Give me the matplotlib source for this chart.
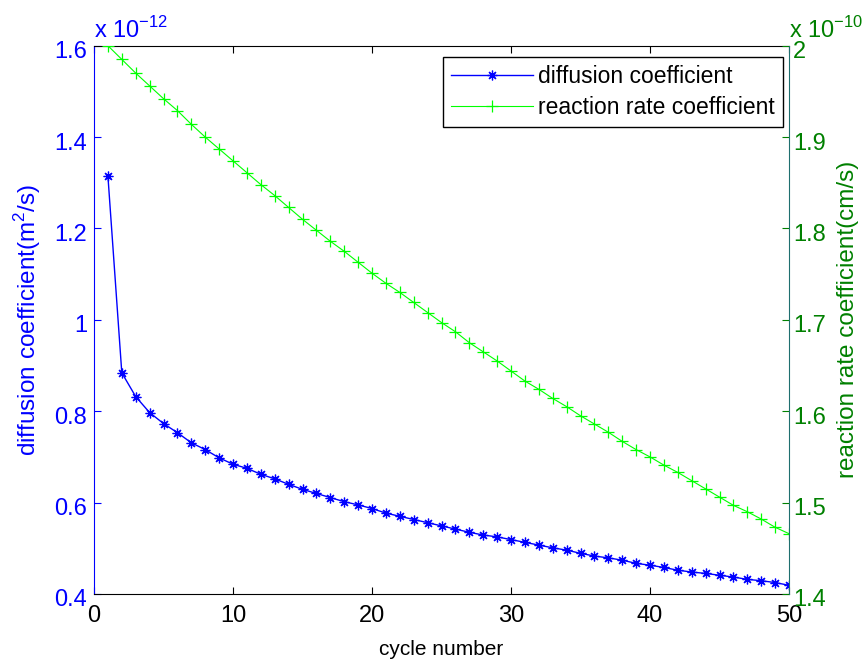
import numpy as np
import matplotlib
matplotlib.use('Agg')
import matplotlib.pyplot as plt
import matplotlib.transforms as mtransforms

plt.rcParams['font.family'] = ['Liberation Sans', 'DejaVu Sans']
plt.rcParams['mathtext.fontset'] = 'custom'
plt.rcParams['mathtext.rm'] = 'Liberation Sans'

# cycle number
cycle = list(range(1, 51))

# diffusion coefficient, units of 1e-12 m^2/s
diff = [1.315, 0.884, 0.832, 0.797, 0.773, 0.753, 0.731, 0.716, 0.698, 0.684,
        0.675, 0.662, 0.652, 0.640, 0.629, 0.620, 0.611, 0.602, 0.595, 0.587,
        0.577, 0.570, 0.563, 0.556, 0.549, 0.542, 0.535, 0.529, 0.525, 0.519,
        0.513, 0.507, 0.501, 0.496, 0.489, 0.483, 0.479, 0.474, 0.467, 0.463,
        0.458, 0.452, 0.448, 0.445, 0.441, 0.437, 0.432, 0.429, 0.425, 0.419]

# reaction rate coefficient, units of 1e-10 cm/s
rate = [2.000, 1.985, 1.970, 1.956, 1.942, 1.929, 1.914, 1.900, 1.887, 1.874,
        1.861, 1.848, 1.836, 1.823, 1.810, 1.798, 1.786, 1.775, 1.763, 1.751,
        1.740, 1.730, 1.719, 1.708, 1.697, 1.687, 1.675, 1.665, 1.655, 1.644,
        1.633, 1.624, 1.614, 1.605, 1.595, 1.586, 1.577, 1.567, 1.558, 1.550,
        1.541, 1.533, 1.524, 1.515, 1.506, 1.497, 1.490, 1.482, 1.473, 1.466]

blue = (0, 0, 1)
lime = (0, 1, 0)
dgreen = (0, 0.5, 0)

fig = plt.figure(figsize=(8.68, 6.65), dpi=100)
ax1 = fig.add_axes([0.1083, 0.1068, 0.8007, 0.8245])
ax2 = ax1.twinx()

l1, = ax1.plot(cycle, diff, color=blue, lw=1.0, marker=(8, 2, 0), ms=7, mew=0.9)
l2, = ax2.plot(cycle, rate, color=lime, lw=0.8, marker='+', ms=8, mew=0.9)

ax1.set_xlim(0, 50)
ax1.set_ylim(0.4, 1.6)
ax2.set_ylim(1.4, 2.0)
ax1.set_xticks([0, 10, 20, 30, 40, 50])
ax1.set_yticks([0.4, 0.6, 0.8, 1.0, 1.2, 1.4, 1.6])
ax1.set_yticklabels(['0.4', '0.6', '0.8', '1', '1.2', '1.4', '1.6'])
ax2.set_yticks([1.4, 1.5, 1.6, 1.7, 1.8, 1.9, 2.0])
ax2.set_yticklabels(['1.4', '1.5', '1.6', '1.7', '1.8', '1.9', '2'])

ax1.tick_params(axis='x', direction='in', length=5, labelsize=17, colors='black',
                top=True, pad=8)
ax1.tick_params(axis='y', direction='in', length=5, labelsize=17, colors=blue, pad=5)
ax2.tick_params(axis='y', direction='in', length=5, labelsize=17, colors=dgreen, pad=3)

# matlab puts y tick labels a little below the tick
shift = mtransforms.ScaledTranslation(0, -4 / 100, fig.dpi_scale_trans)
for lab in ax1.get_yticklabels() + ax2.get_yticklabels():
    lab.set_transform(lab.get_transform() + shift)

for sp in ['top', 'bottom']:
    ax1.spines[sp].set_color('black')
ax1.spines['left'].set_color(blue)
ax2.spines['left'].set_visible(False)
ax2.spines['top'].set_visible(False)
ax2.spines['bottom'].set_visible(False)
ax2.spines['right'].set_color('#1f6f6f')
ax1.spines['right'].set_visible(False)

ax1.set_xlabel('cycle number', fontsize=15, labelpad=9)
ax1.set_ylabel('diffusion coefficient(m$^2$/s)', fontsize=17.5, color=blue, labelpad=8)
ax2.set_ylabel('reaction rate coefficient(cm/s)', fontsize=17.5, color=dgreen, labelpad=8)

ax1.text(0, 1.005, r'x 10$^{-12}$', transform=ax1.transAxes, color=blue,
         fontsize=17, ha='left', va='bottom')
ax2.text(1.0, 1.005, r'x 10$^{-10}$', transform=ax2.transAxes, color=dgreen,
         fontsize=17, ha='left', va='bottom')

leg = ax2.legend([l1, l2], ['diffusion coefficient', 'reaction rate coefficient'],
                 loc='upper right', bbox_to_anchor=(0.991, 0.979), fontsize=16.5,
                 frameon=True, fancybox=False, framealpha=1, edgecolor='black',
                 handlelength=3.6, handletextpad=0.2, borderpad=0.35,
                 labelspacing=0.35, borderaxespad=0)
leg.get_frame().set_linewidth(1.0)

fig.savefig('out.png', dpi=100)
